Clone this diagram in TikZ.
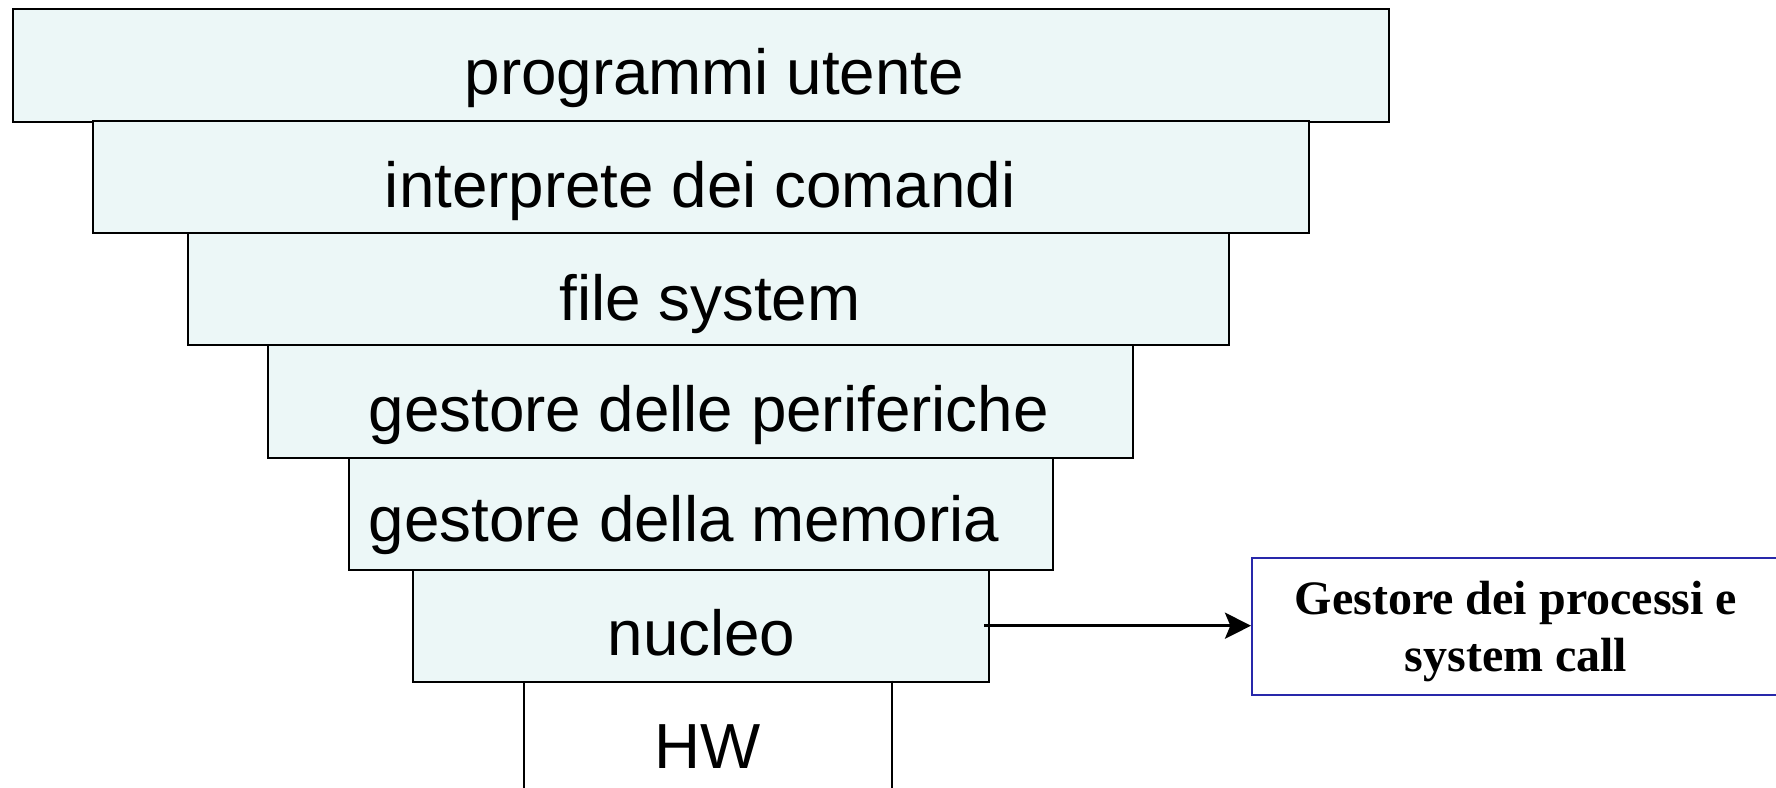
\documentclass[tikz,border=0pt]{standalone}
\usepackage{fontspec}
\setmainfont{Liberation Serif}
\setsansfont{Liberation Sans}
\usetikzlibrary{arrows.meta}
\definecolor{layerfill}{RGB}{236,247,247}
\definecolor{boxblue}{RGB}{40,40,170}
\tikzset{
  layer/.style={draw=black, line width=1.5pt, fill=layerfill, rectangle, inner sep=0pt, anchor=north west},
  layertext/.style={anchor=base, inner sep=0pt, font=\sffamily\fontsize{47.8}{57}\selectfont},
  hwbox/.style={rectangle, inner sep=0pt, anchor=north west},
  hwside/.style={line width=1.4pt},
  sidebox/.style={draw=boxblue, line width=1.4pt, fill=white, rectangle, inner sep=0pt, anchor=north west},
  sidetext/.style={align=center, inner sep=0pt, font=\rmfamily\bfseries\fontsize{36}{42.75}\selectfont},
  arrowline/.style={line width=2.5pt, -{Stealth[length=19.5pt, width=19.5pt, inset=4pt]}}
}
\begin{document}
\begin{tikzpicture}[x=0.75pt, y=-0.75pt]
\useasboundingbox (0,0) rectangle (1776,788);
% layers
\node[layer, minimum width=1032.2pt, minimum height=84.2pt] (b1) at (11.7,8.3) {};
\node[layer, minimum width=912.2pt, minimum height=83.9pt] (b2) at (91.7,120.5) {};
\node[layer, minimum width=780.5pt, minimum height=84.0pt] (b3) at (187.3,232.3) {};
\node[layer, minimum width=648.5pt, minimum height=84.2pt] (b4) at (267.3,344.3) {};
\node[layer, minimum width=528.0pt, minimum height=84.1pt] (b5) at (348,456.6) {};
\node[layer, minimum width=432.2pt, minimum height=84.0pt] (b6) at (411.8,568.7) {};
\node[hwbox, minimum width=275.4pt, minimum height=90pt] (hw) at (524.3,680.7) {};
\draw[hwside] (hw.south west) -- (hw.north west);
\draw[hwside] (hw.north east) -- (hw.south east);
% texts
\node[layertext] (t1) at (714.3,95) {programmi utente};
\node[layertext] (t2) at (700.2,207.3) {interprete dei comandi};
\node[layertext] (t3) at (709.8,320) {file system};
\node[layertext] (t4) at (708.7,431.7) {gestore delle periferiche};
\node[layertext] (t5) at (684.1,541.7) {gestore della memoria};
\node[layertext] (t6) at (701.5,655) {nucleo};
\node[layertext] (t7) at (707.8,768.3) {HW};
% side box
\node[sidebox, minimum width=397.5pt, minimum height=102.7pt] (gp) at (1251,556.8) {};
\node[sidetext] (gpt) at (1516,632) {Gestore dei processi e\\system call};
% arrow
\draw[arrowline] ([xshift=-4.5pt]b6.east) -- (gp.west |- b6.east);
\end{tikzpicture}
\end{document}
